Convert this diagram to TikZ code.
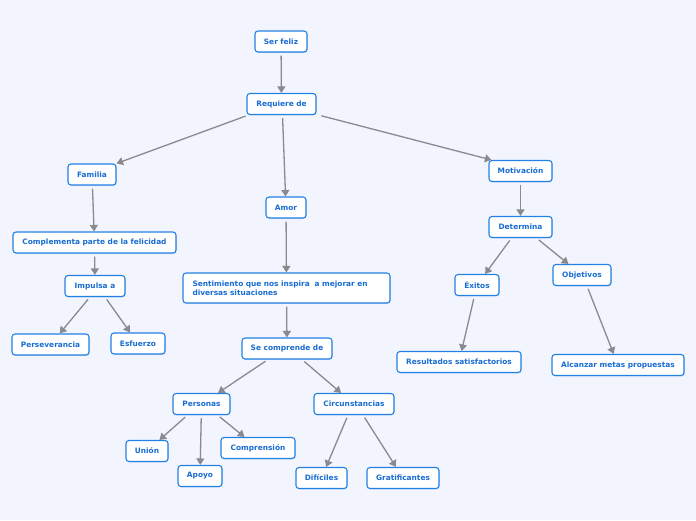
\documentclass[tikz,border=0pt]{standalone}
\usepackage{fontspec}
\setmainfont{DejaVu Sans}
\usetikzlibrary{arrows.meta,shadows}
\definecolor{bgc}{RGB}{242,245,254}
\definecolor{bordc}{RGB}{36,128,228}
\definecolor{txtc}{RGB}{24,108,210}
\definecolor{linec}{RGB}{138,138,142}
\tikzset{
  box/.style={draw=bordc, line width=1.1pt, fill=white, rounded corners=3pt,
    minimum height=21pt, inner sep=2pt, text=txtc,
    font=\fontsize{7.4}{9}\selectfont\bfseries,
    drop shadow={opacity=0.25, shadow xshift=0.6pt, shadow yshift=-0.9pt, fill=bordc}},
  conn/.style={draw=linec, line width=1.3pt, shorten <=3pt,
    -{Triangle[width=8pt,length=6.5pt]}}
}
\begin{document}
\begin{tikzpicture}[x=1pt,y=-1pt]
\useasboundingbox[fill=bgc] (0,0) rectangle (696,520);
\node[box, minimum width=52pt] (ser) at (281,41.5) {Ser feliz};
\node[box, minimum width=69pt] (req) at (281.5,104) {Requiere de};
\node[box, minimum width=48pt] (fam) at (92,174.5) {Familia};
\node[box, minimum width=40pt] (amor) at (286,207.5) {Amor};
\node[box, minimum width=63pt] (mot) at (520.5,171) {Motivación};
\node[box, minimum width=163pt] (comp) at (94.5,242.5) {Complementa parte de la felicidad};
\node[box, minimum width=60pt] (imp) at (95,286) {Impulsa a};
\node[box, minimum width=77pt] (pers) at (50.5,344.5) {Perseverancia};
\node[box, minimum width=54pt] (esf) at (138,343.5) {Esfuerzo};
\node[box, minimum width=207pt, minimum height=30pt, align=left, text width=188pt] (sent) at (286.5,288)
  {Sentimiento que nos inspira\ \ a mejorar en\\diversas situaciones};
\node[box, minimum width=90pt] (secomp) at (287,348.5) {Se comprende de};
\node[box, minimum width=57pt] (personas) at (201.5,404) {Personas};
\node[box, minimum width=80pt] (circ) at (354,404) {Circunstancias};
\node[box, minimum width=42pt] (union) at (147,451) {Unión};
\node[box, minimum width=44pt] (apoyo) at (200,476) {Apoyo};
\node[box, minimum width=74pt] (compr) at (258,448) {Comprensión};
\node[box, minimum width=51pt] (dif) at (321.5,478) {Difíciles};
\node[box, minimum width=72pt] (grat) at (403,478) {Gratificantes};
\node[box, minimum width=63pt] (det) at (520.5,227) {Determina};
\node[box, minimum width=44pt] (exi) at (477,285) {Éxitos};
\node[box, minimum width=58pt] (obj) at (582,275) {Objetivos};
\node[box, minimum width=124pt] (res) at (459,362) {Resultados satisfactorios};
\node[box, minimum width=132pt] (alc) at (618,365) {Alcanzar metas propuestas};

\draw[conn] (ser) -- (req);
\draw[conn] ([xshift=2pt]req.south west) -- (fam.north east);
\draw[conn] ([xshift=1pt]req.south) -- (amor);
\draw[conn] ([xshift=2pt]req.south east) -- ([xshift=3pt]mot.north west);
\draw[conn] (fam) -- (comp);
\draw[conn] (comp) -- (imp);
\draw[conn] ([xshift=-5pt]imp.south) -- (pers);
\draw[conn] ([xshift=10pt]imp.south) -- (esf);
\draw[conn] (amor) -- (sent);
\draw[conn] (sent) -- (secomp);
\draw[conn] ([xshift=-19pt]secomp.south) -- (personas);
\draw[conn] ([xshift=15pt]secomp.south) -- (circ);
\draw[conn] ([xshift=-14pt]personas.south) -- (union);
\draw[conn] (personas) -- (apoyo);
\draw[conn] ([xshift=16pt]personas.south) -- (compr);
\draw[conn] ([xshift=-6pt]circ.south) -- (dif);
\draw[conn] ([xshift=9pt]circ.south) -- (grat);
\draw[conn] (mot) -- (det);
\draw[conn] ([xshift=-9pt]det.south) -- (exi);
\draw[conn] ([xshift=16pt]det.south) -- (obj);
\draw[conn] (exi) -- (res);
\draw[conn] ([xshift=5pt]obj.south) -- (alc);
\end{tikzpicture}
\end{document}
